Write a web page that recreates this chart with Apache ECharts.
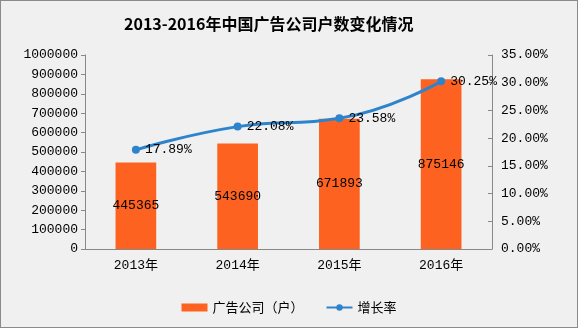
<!DOCTYPE html>
<html><head><meta charset="utf-8">
<script src="https://cdn.jsdelivr.net/npm/echarts@6/dist/echarts.min.js"></script>
<style>
html,body{margin:0;padding:0;background:#fff;}
#c{width:576px;height:326px;border:1px solid #8a8a8a;background:#f0f0f0;}
</style></head>
<body><div id="c"></div>
<script>
const categories = ['2013年','2014年','2015年','2016年'];
const companies = [445365, 543690, 671893, 875146];
const growth = [17.89, 22.08, 23.58, 30.25];
const leftTicks = [0,100000,200000,300000,400000,500000,600000,700000,800000,900000,1000000];

const mono = "'Liberation Mono','Noto Sans CJK SC',monospace";
const chart = echarts.init(document.getElementById('c'));
chart.setOption({
  backgroundColor: '#f0f0f0',
  animation: false,
  title: {
    text: '2013-2016年中国广告公司户数变化情况',
    left: 118, top: 10,
    textStyle: {fontFamily: "'Noto Sans CJK SC'", fontSize: 16, fontWeight: 'bold', color: '#000'}
  },
  legend: {
    bottom: 8, left: 'center', itemGap: 22,
    itemWidth: 26, itemHeight: 8,
    textStyle: {fontFamily: "'Noto Sans CJK SC'", fontSize: 13, color: '#000'},
    data: [{name:'广告公司（户）', icon:'rect'}, {name:'增长率'}]
  },
  grid: {left: 84, right: 85, top: 54, bottom: 78},
  xAxis: {
    type: 'category', data: categories,
    axisLine: {lineStyle: {color: '#888'}},
    axisTick: {lineStyle: {color: '#888'}, length: 4},
    axisLabel: {fontFamily: mono, fontSize: 13, color: '#000', margin: 10}
  },
  yAxis: [{
    type: 'value', min: leftTicks[0], max: leftTicks[leftTicks.length-1], interval: 100000,
    axisLine: {show: true, lineStyle: {color: '#888'}},
    axisTick: {show: true, length: 4, lineStyle: {color: '#888'}},
    splitLine: {show: false},
    axisLabel: {fontFamily: mono, fontSize: 13, color: '#000', margin: 7,
      formatter: v => String(v)}
  },{
    type: 'value', min: 0, max: 35, interval: 5,
    axisLine: {show: true, lineStyle: {color: '#888'}},
    axisTick: {show: true, inside: true, length: 4, lineStyle: {color: '#888'}},
    splitLine: {show: false},
    axisLabel: {fontFamily: mono, fontSize: 13, color: '#000', margin: 9,
      formatter: v => v.toFixed(2) + '%'}
  }],
  series: [{
    name: '广告公司（户）', type: 'bar', data: companies, barWidth: '40%',
    itemStyle: {color: '#fe6220'},
    label: {show: true, position: 'inside', fontFamily: mono, fontSize: 13, color: '#000'}
  },{
    name: '增长率', type: 'line', yAxisIndex: 1, data: growth, smooth: true,
    symbol: 'circle', symbolSize: 8,
    lineStyle: {color: '#2e84cc', width: 3},
    itemStyle: {color: '#2e84cc'},
    label: {show: true, position: 'right', fontFamily: mono, fontSize: 13, color: '#000',
      formatter: p => p.value.toFixed(2) + '%'}
  }]
});
</script></body></html>
